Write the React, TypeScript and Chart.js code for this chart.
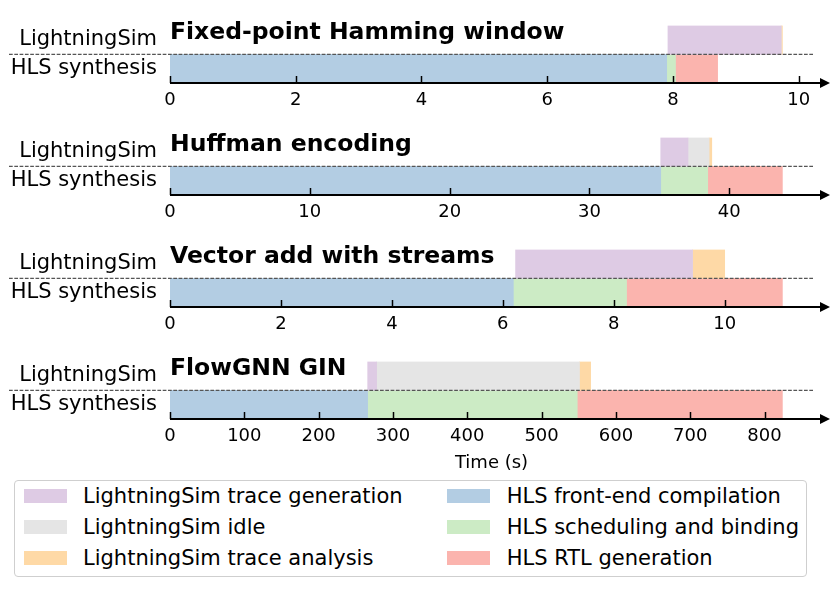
import React, { useEffect, useRef } from 'react';
import { Chart, registerables } from 'chart.js';

Chart.register(...registerables);

const FONT = "'DejaVu Sans', sans-serif";

// ---- data ----
const panelTitles = ['Fixed-point Hamming window', 'Huffman encoding', 'Vector add with streams', 'FlowGNN GIN'];
const rowLabels = ['LightningSim', 'HLS synthesis'];
const segmentNames = [
  'LightningSim trace generation',
  'LightningSim idle',
  'LightningSim trace analysis',
  'HLS front-end compilation',
  'HLS scheduling and binding',
  'HLS RTL generation',
];
const segmentColors = ['#decbe4', '#e5e5e5', '#fed9a6', '#b3cde3', '#ccebc5', '#fbb4ae'];

// durations in seconds, one entry per panel
const hlsFrontEnd = [7.9, 35.1, 6.19, 265.9];
const hlsScheduling = [0.14, 3.36, 2.04, 282.1];
const hlsRtl = [0.67, 5.34, 2.81, 276.0];
const lsStart = [7.92, 35.1, 6.23, 266.0];
const lsTraceGen = [1.8, 1.95, 3.19, 12.0];
const lsIdle = [0, 1.51, 0, 273.0];
const lsTraceAnalysis = [0.02, 0.19, 0.58, 15.0];
const tickSteps = [2, 10, 2, 100];
const xAxisTitle = 'Time (s)';

Chart.defaults.font.family = FONT;
Chart.defaults.color = '#000';

function Panel({ idx, top, height, last }: { idx: number; top: number; height: number; last: boolean }) {
  const ref = useRef<HTMLCanvasElement>(null);
  useEffect(() => {
    const canvas = ref.current!;
    const l0 = lsStart[idx];
    const l1 = l0 + lsTraceGen[idx];
    const l2 = l1 + lsIdle[idx];
    const l3 = l2 + lsTraceAnalysis[idx];
    const h1 = hlsFrontEnd[idx];
    const h2 = h1 + hlsScheduling[idx];
    const h3 = h2 + hlsRtl[idx];
    const xMax = Math.max(l3, h3) * 1.05;
    const step = tickSteps[idx];
    const title = panelTitles[idx];

    const ranges: any[] = [
      [[l0, l1], null],
      [[l1, l2], null],
      [[l2, l3], null],
      [null, [0, h1]],
      [null, [h1, h2]],
      [null, [h2, h3]],
    ];

    const decor = {
      id: 'decor' + idx,
      afterDatasetsDraw(chart: any) {
        const { ctx, chartArea, scales } = chart;
        const { left, right, top: t, bottom } = chartArea;
        const x = scales.x;
        const mid = (t + bottom) / 2;
        ctx.save();
        // dashed separator
        ctx.strokeStyle = '#555';
        ctx.lineWidth = 1.2;
        ctx.setLineDash([3.7, 1.6]);
        ctx.beginPath();
        ctx.moveTo(9, mid);
        ctx.lineTo(right, mid);
        ctx.stroke();
        ctx.setLineDash([]);
        // inward ticks
        ctx.strokeStyle = '#000';
        ctx.lineWidth = 1.5;
        x.ticks.forEach((tk: any) => {
          const px = Math.round(x.getPixelForValue(tk.value)) + 0.5;
          ctx.beginPath();
          ctx.moveTo(px, bottom);
          ctx.lineTo(px, bottom - 7);
          ctx.stroke();
        });
        // axis line + arrow
        ctx.lineWidth = 2;
        ctx.beginPath();
        ctx.moveTo(left, bottom);
        ctx.lineTo(right + 9, bottom);
        ctx.stroke();
        ctx.fillStyle = '#000';
        ctx.beginPath();
        ctx.moveTo(right + 7, bottom - 5);
        ctx.lineTo(right + 17, bottom);
        ctx.lineTo(right + 7, bottom + 5);
        ctx.closePath();
        ctx.fill();
        // panel title
        ctx.font = `bold 23.5px ${FONT}`;
        ctx.textAlign = 'left';
        ctx.textBaseline = 'alphabetic';
        ctx.fillText(title, left, t + 13.5);
        ctx.restore();
      },
    };

    const chart = new Chart(canvas, {
      type: 'bar',
      data: {
        labels: rowLabels,
        datasets: segmentNames.map((name, k) => ({
          label: name,
          data: ranges[k],
          backgroundColor: segmentColors[k],
          borderWidth: 0,
          barPercentage: 1,
          categoryPercentage: 1,
          grouped: false,
        })) as any,
      },
      options: {
        indexAxis: 'y',
        responsive: false,
        animation: false,
        devicePixelRatio: 1,
        layout: { padding: { top: 20, right: 17, left: 0, bottom: 0 } },
        plugins: { legend: { display: false }, tooltip: { enabled: false }, title: { display: false } },
        scales: {
          y: {
            type: 'category',
            grid: { display: false, drawTicks: false },
            border: { display: false },
            ticks: { font: { size: 21, family: FONT }, color: '#000', padding: 13 },
            afterFit: (s: any) => {
              s.width = 170;
            },
          },
          x: {
            type: 'linear',
            min: 0,
            max: xMax,
            grid: { display: false, drawTicks: false },
            border: { display: false },
            ticks: {
              font: { size: 18, family: FONT, lineHeight: 1 },
              color: '#000',
              padding: 8.5,
              autoSkip: false,
              maxRotation: 0,
              callback: (v: any) => String(v),
            },
            afterBuildTicks: (s: any) => {
              const arr: any[] = [];
              for (let v = 0; v <= xMax + 1e-9; v += step) arr.push({ value: Math.round(v * 1000) / 1000 });
              s.ticks = arr;
            },
            title: {
              display: last,
              text: xAxisTitle,
              font: { size: 18, family: FONT, lineHeight: 1 },
              color: '#000',
              padding: { top: 0, bottom: 4 },
            },
            afterFit: (s: any) => {
              s.height = height - 83;
            },
          },
        },
      } as any,
      plugins: [decor],
    });
    return () => chart.destroy();
  }, []);
  return (
    <canvas
      ref={ref}
      width={830}
      height={height}
      style={{ position: 'absolute', left: 0, top, width: 830, height }}
    />
  );
}

function Legend() {
  const rowsY = [496, 527, 558];
  const items = segmentNames.map((name, k) => {
    const col = k < 3 ? 0 : 1;
    const row = k % 3;
    const sx = col === 0 ? 23.5 : 446.7;
    const tx = col === 0 ? 83 : 506.7;
    const cy = rowsY[row];
    return (
      <React.Fragment key={name}>
        <div
          style={{
            position: 'absolute',
            left: sx,
            top: cy - 7,
            width: 43,
            height: 14,
            background: segmentColors[k],
          }}
        />
        <div
          style={{
            position: 'absolute',
            left: tx,
            top: cy - 15,
            height: 30,
            lineHeight: '30px',
            fontFamily: FONT,
            fontSize: 21,
            color: '#000',
            whiteSpace: 'nowrap',
          }}
        >
          {name}
        </div>
      </React.Fragment>
    );
  });
  return (
    <>
      <div
        style={{
          position: 'absolute',
          left: 14,
          top: 480,
          width: 793,
          height: 97,
          boxSizing: 'border-box',
          border: '1.5px solid #cfcfcf',
          borderRadius: 4,
          background: '#fff',
        }}
      />
      {items}
    </>
  );
}

export default function App() {
  return (
    <div style={{ position: 'fixed', left: 0, top: 0, width: 830, height: 595, background: '#fff', overflow: 'hidden' }}>
      <Panel idx={0} top={0} height={112} last={false} />
      <Panel idx={1} top={112} height={112} last={false} />
      <Panel idx={2} top={224} height={112} last={false} />
      <Panel idx={3} top={336} height={140} last={true} />
      <Legend />
    </div>
  );
}
